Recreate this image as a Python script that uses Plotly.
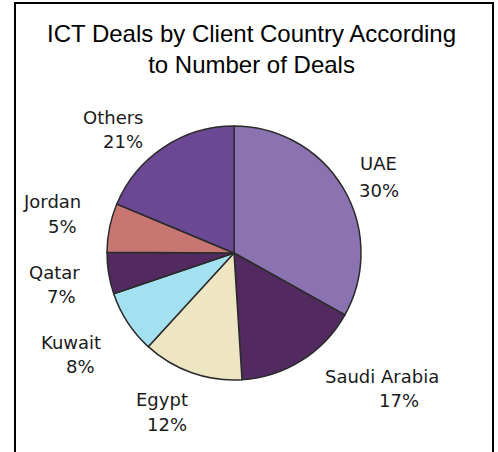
import plotly.graph_objects as go

W, H = 498, 452

# Data
countries = ["UAE", "Saudi Arabia", "Egypt", "Kuwait", "Qatar", "Jordan", "Others"]
slice_shares = [33.1, 15.9, 12.8, 8.0, 5.3, 6.2, 18.7]   # slice sizes as drawn
pct_labels = ["30%", "17%", "12%", "8%", "7%", "5%", "21%"]  # printed labels
colors = ["#8B73B1", "#522A5F", "#EEE5C3", "#A3E0F0", "#522A5F", "#C87671", "#6A4893"]

# label placement (pixel centers: name line, percent line)
name_pos = [(378, 163), (382, 376), (162, 399), (71, 342), (54, 272), (52, 201), (113, 117)]
pct_pos = [(379, 190), (399, 400), (167, 424), (80, 366), (61, 296), (62, 226), (123, 142)]

cx, cy, r = 234, 253, 127

fig = go.Figure(go.Pie(
    labels=countries,
    values=slice_shares,
    sort=False,
    direction="clockwise",
    rotation=0,
    marker=dict(colors=colors, line=dict(color="#2b2b2b", width=1.5)),
    textinfo="none",
    hoverinfo="label+percent",
    showlegend=False,
    domain=dict(x=[(cx - r) / W, (cx + r) / W], y=[(H - cy - r) / H, (H - cy + r) / H]),
))

lab_font = dict(family="DejaVu Sans", size=18, color="#1a1a1a")
annotations = []
for name, pct, (nx, ny), (px, py) in zip(countries, pct_labels, name_pos, pct_pos):
    annotations.append(dict(text=name, x=nx / W, y=1 - ny / H, xref="paper", yref="paper",
                            xanchor="center", yanchor="middle", showarrow=False, font=lab_font))
    annotations.append(dict(text=pct, x=px / W, y=1 - py / H, xref="paper", yref="paper",
                            xanchor="center", yanchor="middle", showarrow=False, font=lab_font))

annotations.append(dict(
    text="ICT Deals by Client Country According<br>to Number of Deals",
    x=251 / W, y=1 - 49 / H, xref="paper", yref="paper", xanchor="center", yanchor="middle",
    showarrow=False, align="center",
    font=dict(family="Liberation Sans, Arial", size=24, color="#000000"),
))

fig.update_layout(
    width=W, height=H,
    margin=dict(l=0, r=0, t=0, b=0),
    paper_bgcolor="white", plot_bgcolor="white",
    annotations=annotations,
    shapes=[dict(type="rect", xref="paper", yref="paper",
                 x0=15 / W, x1=493 / W, y0=-0.05, y1=1 - 3 / H,
                 line=dict(color="#000000", width=2), fillcolor="rgba(0,0,0,0)")],
)

fig.write_html("out.html", config={"displayModeBar": False},
               post_script="document.body.style.margin='0';document.body.style.overflow='hidden';")
